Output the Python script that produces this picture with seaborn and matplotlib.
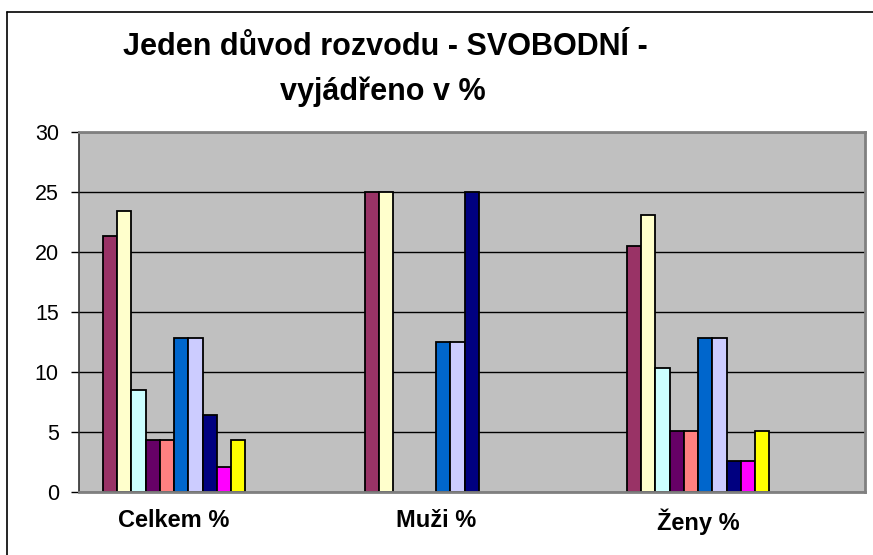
import pandas as pd
import matplotlib.pyplot as plt
import seaborn as sns
from matplotlib.lines import Line2D

# Data (shares of one reason for divorce, single people)
categories = ["Celkem %", "Muži %", "Ženy %"]
reasons = ["Důvod 1", "Důvod 2", "Důvod 3", "Důvod 4", "Důvod 5",
           "Důvod 6", "Důvod 7", "Důvod 8", "Důvod 9", "Důvod 10"]
celkem = [21.3, 23.4, 8.5, 4.3, 4.3, 12.8, 12.8, 6.4, 2.1, 4.3]
muzi = [25.0, 25.0, 0.0, 0.0, 0.0, 12.5, 12.5, 25.0, 0.0, 0.0]
zeny = [20.5, 23.1, 10.3, 5.1, 5.1, 12.8, 12.8, 2.6, 2.6, 5.1]
colors = ["#993366", "#FFFFCC", "#CCFFFF", "#660066", "#FF8080",
          "#0066CC", "#CCCCFF", "#000080", "#FF00FF", "#FFFF00"]

rows = []
for cat, vals in zip(categories, [celkem, muzi, zeny]):
    for r, v in zip(reasons, vals):
        rows.append({"skupina": cat, "duvod": r, "procento": v})
df = pd.DataFrame(rows)
df = df[df["procento"] > 0]

sns.set_theme(style="white")
plt.rcParams["font.family"] = ["Liberation Sans", "DejaVu Sans"]
plt.rcParams["text.color"] = "black"

fig = plt.figure(figsize=(8.73, 5.55), dpi=100)
ax = fig.add_axes([79 / 873, 63 / 555, 786 / 873, 360 / 555])

sns.barplot(data=df, x="skupina", y="procento", hue="duvod",
            order=categories, hue_order=reasons,
            palette=dict(zip(reasons, colors)), saturation=1,
            width=0.544, gap=0, errorbar=None, legend=False,
            edgecolor="black", linewidth=1.3, ax=ax)

ax.set_facecolor("#C0C0C0")
ax.set_xlim(-0.3626, 2.637)
ax.set_ylim(0, 30)
ax.set_yticks(range(0, 31, 5))
ax.set_axisbelow(True)
ax.yaxis.grid(True, color="black", linewidth=1)
ax.set_xlabel("")
ax.set_ylabel("")

for side in ["top", "right", "bottom"]:
    ax.spines[side].set_color("#808080")
    ax.spines[side].set_linewidth(2)
ax.spines["left"].set_color("#303030")
ax.spines["left"].set_linewidth(1.2)

ax.tick_params(axis="y", left=True, length=6, width=1, color="black",
               pad=8.5, labelsize=15.5, labelcolor="black")
ax.tick_params(axis="x", bottom=False, length=0, pad=12, labelsize=17,
               labelcolor="black")
for lbl in ax.get_xticklabels():
    lbl.set_fontweight("bold")

fig.text(385 / 873, 1 - 55 / 555, "Jeden důvod rozvodu - SVOBODNÍ -",
         ha="center", va="baseline", fontsize=22, fontweight="bold",
         color="black")
fig.text(383 / 873, 1 - 100 / 555, "vyjádřeno v %",
         ha="center", va="baseline", fontsize=22, fontweight="bold",
         color="black")

# outer chart frame (only left and top edges are visible)
fig.add_artist(Line2D([7 / 873, 7 / 873], [0, 1 - 12 / 555],
                      color="black", linewidth=1.2, transform=fig.transFigure))
fig.add_artist(Line2D([7 / 873, 1], [1 - 12 / 555, 1 - 12 / 555],
                      color="black", linewidth=1.2, transform=fig.transFigure))

fig.savefig("out.png", dpi=100)
plt.close(fig)
